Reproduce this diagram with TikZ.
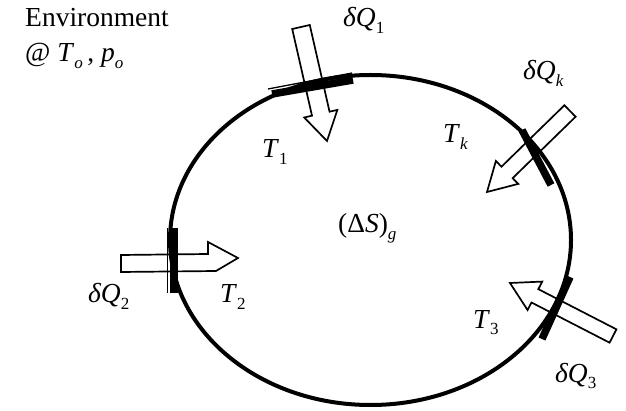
\documentclass[tikz,border=0pt]{standalone}
\usepackage{fontspec}
\setmainfont{Liberation Serif}
\usetikzlibrary{calc}
\newcommand\sbs[1]{\raisebox{-6.5pt}{\fontsize{17}{17}\selectfont #1}}
\newcommand\blockarrow[5]{%
  \draw[arr] ($(#1)!#3!90:(#2)$) -- ($(#2)!#5!(#1)!#3!-90:(#1)$) -- ($(#2)!#5!(#1)!#4!-90:(#1)$) -- (#2) -- ($(#2)!#5!(#1)!#4!90:(#1)$) -- ($(#2)!#5!(#1)!#3!90:(#1)$) -- ($(#1)!#3!-90:(#2)$) -- cycle;}
\tikzset{
  wall/.style={line width=4pt},
  bar/.style={line width=7.5pt},
  thinbar/.style={line width=1.3pt},
  arr/.style={line width=1.7pt, line join=miter},
  lbl/.style={font=\fontsize{27.5}{32}\selectfont, inner sep=0pt, anchor=base west},
}
\begin{document}
\begin{tikzpicture}[x=1pt,y=-1pt]
\useasboundingbox (0,0) rectangle (626,411);
% system boundary
\draw[wall] (370.5,240) ellipse [x radius=200.5pt, y radius=165pt];
% wall segments
\draw[bar] (272,94) -- (353,80);
\draw[thinbar] (268,89) -- (352,73);
\draw[bar] (174,228) -- (174,293);
\draw[thinbar] (167.5,228) -- (167.5,293);
\draw[bar] (522,130) -- (551,185);
\draw[bar] (570,277) -- (542,339);
% arrows
\coordinate (t1) at (301,27);  \coordinate (h1) at (327,141);
\coordinate (tk) at (570,111); \coordinate (hk) at (487,192);
\coordinate (t3) at (613,336); \coordinate (h3) at (510,283);
\coordinate (t2) at (121,263); \coordinate (h2) at (238,258);
\blockarrow{t1}{h1}{9pt}{17pt}{28pt}
\blockarrow{tk}{hk}{8pt}{16pt}{28pt}
\blockarrow{t3}{h3}{7.5pt}{16pt}{28pt}
\draw[arr] (121,255) -- (208,254) -- (208,242) -- (h2) -- (216,271) -- (121,272) -- cycle;
% labels
\node[lbl] (env) at (25,27) {Environment};
\node[lbl] (cond) at (25,62) {@ \textit{T}\sbs{\textit{o}}\,, \textit{p}\sbs{\textit{o}}};
\node[lbl] (q1) at (343,27) {\textit{δQ}\sbs{1}};
\node[lbl] (qk) at (523,80) {\textit{δQ}\sbs{\textit{k}}};
\node[lbl] (q2) at (88,303) {\textit{δQ}\sbs{2}};
\node[lbl] (q3) at (555,382) {\textit{δQ}\sbs{3}};
\node[lbl] (T1) at (262,158) {\textit{T}\sbs{1}};
\node[lbl] (Tk) at (443,143) {\textit{T}\sbs{\textit{k}}};
\node[lbl] (T2) at (220,303) {\textit{T}\sbs{2}};
\node[lbl] (T3) at (473,328) {\textit{T}\sbs{3}};
\node[lbl] (S) at (338,233) {(Δ\textit{S})\sbs{\textit{g}}};
\end{tikzpicture}
\end{document}
